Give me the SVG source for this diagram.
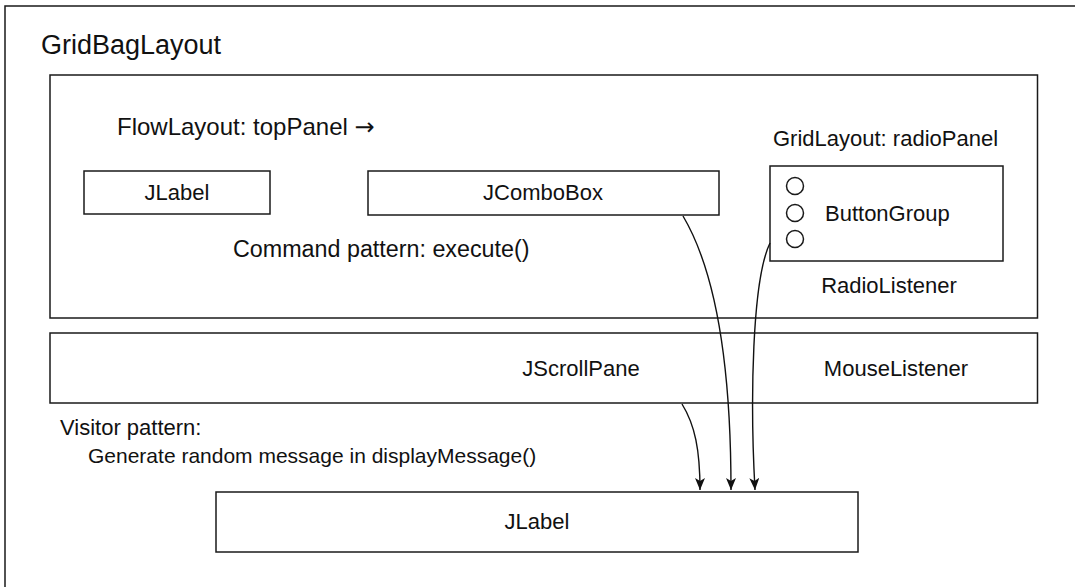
<svg xmlns="http://www.w3.org/2000/svg" width="1075" height="587" viewBox="0 0 1075 587">
<style>
.box{fill:none;stroke:#1a1a1a;stroke-width:1.5}
.t{font-family:"Liberation Sans",Arial,sans-serif;font-size:22px;fill:#111}
.c{text-anchor:middle}
.conn{fill:none;stroke:#111;stroke-width:1.4}
</style>
<defs>
<marker id="ah" viewBox="0 0 12 10" refX="12" refY="5" markerWidth="12" markerHeight="10" markerUnits="userSpaceOnUse" orient="auto">
<path d="M0,0 L12,5 L0,10 L3,5 z" fill="#111"/>
</marker>
</defs>
<rect width="1075" height="587" fill="#fff"/>
<g id="gridbag">
<rect class="box" x="5" y="6" width="1100" height="620"/>
<text class="t" x="41" y="54" style="font-size:27px">GridBagLayout</text>
</g>
<g id="topPanel">
<rect class="box" x="50" y="75" width="987.5" height="243"/>
<text class="t" x="117" y="135" style="font-size:24px">FlowLayout: topPanel <tspan style="font-family:'DejaVu Sans',sans-serif;font-size:24px">→</tspan></text>
<text class="t" x="233" y="257" style="font-size:23.3px">Command pattern: execute()</text>
</g>
<g id="jlabel1">
<rect class="box" x="84" y="171" width="186" height="43"/>
<text class="t c" x="177" y="200">JLabel</text>
</g>
<g id="jcombobox">
<rect class="box" x="368" y="171" width="351" height="44"/>
<text class="t c" x="543" y="200">JComboBox</text>
</g>
<g id="radioPanel">
<text class="t" x="773" y="146">GridLayout: radioPanel</text>
<rect class="box" x="770" y="166" width="233" height="95"/>
<circle class="box" cx="795" cy="186" r="8.5"/>
<circle class="box" cx="795" cy="213" r="8.5"/>
<circle class="box" cx="795" cy="239" r="8.5"/>
<text class="t" x="825" y="221">ButtonGroup</text>
<text class="t c" x="889" y="293">RadioListener</text>
</g>
<g id="scrollPane">
<rect class="box" x="50" y="333" width="987.5" height="70"/>
<text class="t c" x="581" y="376">JScrollPane</text>
<text class="t c" x="896" y="376">MouseListener</text>
</g>
<g id="visitor">
<text class="t" x="60" y="435">Visitor pattern:</text>
<text class="t" x="88" y="463" style="font-size:21px">Generate random message in displayMessage()</text>
</g>
<g id="jlabel2">
<rect class="box" x="216" y="492" width="642" height="60"/>
<text class="t c" x="537" y="529">JLabel</text>
</g>
<g id="connectors">
<path class="conn" d="M683,216 C712,265 731,350 731,490" marker-end="url(#ah)"/>
<path class="conn" d="M770,243 C752,280 750,400 755,490" marker-end="url(#ah)"/>
<path class="conn" d="M682,404 C695,425 700,450 700,490" marker-end="url(#ah)"/>
</g>
</svg>
